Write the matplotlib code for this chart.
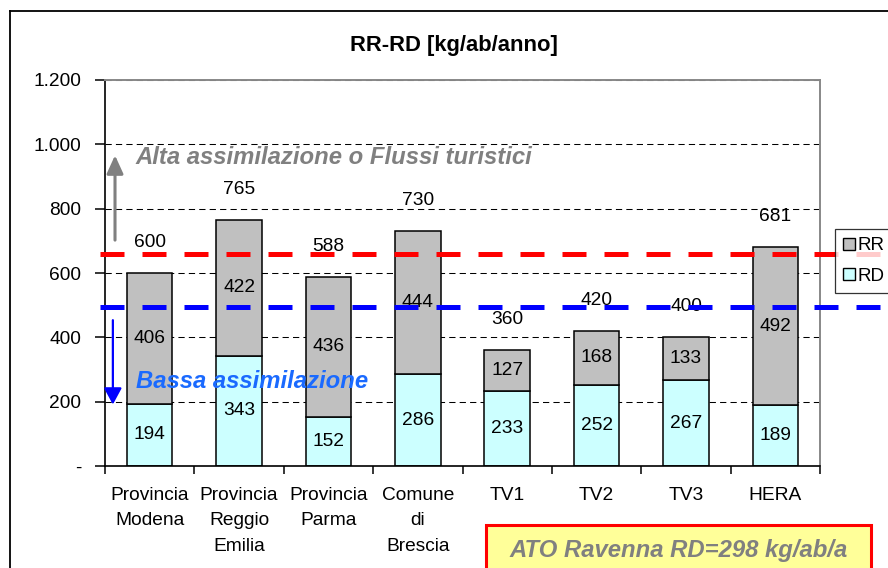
import numpy as np
import matplotlib
matplotlib.use("Agg")
import matplotlib.pyplot as plt
import matplotlib.patches as mpatches
from matplotlib.lines import Line2D

plt.rcParams['font.family'] = ['Liberation Sans', 'DejaVu Sans']

# Dati (kg/ab/anno)
categorie = ["Provincia\nModena", "Provincia\nReggio\nEmilia", "Provincia\nParma",
             "Comune\ndi\nBrescia", "TV1", "TV2", "TV3", "HERA"]
rd = [194, 343, 152, 286, 233, 252, 267, 189]
rr = [406, 422, 436, 444, 127, 168, 133, 492]
totale = [600, 765, 588, 730, 360, 420, 400, 681]

soglia_alta = 660    # linea rossa
soglia_bassa = 495   # linea blu
ato_ravenna_rd = 298

# Colori
col_rr = "#c0c0c0"
col_rd = "#ccffff"

fig = plt.figure(figsize=(8.88, 5.68), dpi=100)
ax = fig.add_axes([105/888, 1 - 466/568, 715/888, 386/568])

x = np.arange(len(categorie))
w = 0.51
ax.bar(x, rd, w, color=col_rd, edgecolor="black", linewidth=1.1, zorder=2)
ax.bar(x, rr, w, bottom=rd, color=col_rr, edgecolor="black", linewidth=1.1, zorder=2)

# etichette dentro le barre
for i in range(len(x)):
    ax.text(x[i], rd[i] / 2, str(rd[i]), ha="center", va="center", fontsize=13.8, zorder=3)
    ax.text(x[i], rd[i] + rr[i] / 2, str(rr[i]), ha="center", va="center", fontsize=13.8, zorder=3)
    ax.annotate(str(totale[i]), xy=(x[i], totale[i]), xytext=(0, 22),
                textcoords="offset points", ha="center", va="center",
                fontsize=13.8, zorder=3)

# assi
ax.set_xlim(-0.5, len(x) - 0.5)
ax.set_ylim(0, 1200)
yt = np.arange(0, 1201, 200)
ax.set_yticks(yt)
ax.set_yticklabels(["-" if v == 0 else f"{v:,}".replace(",", ".") for v in yt], fontsize=13.8)
ax.set_xticks(x)
ax.set_xticklabels(categorie, fontsize=13.8, linespacing=1.65, va="top")
ax.set_xticks(np.arange(-0.5, len(x)), minor=True)
ax.tick_params(axis="x", which="major", length=0, pad=15)
ax.tick_params(axis="x", which="minor", length=6, width=1.1, color="black")
ax.tick_params(axis="y", length=7, width=1.1, pad=10)

ax.yaxis.grid(True, linestyle=(0, (6, 4)), color="black", linewidth=0.75, zorder=0)
ax.set_axisbelow(True)
for s in ["left", "bottom"]:
    ax.spines[s].set_color("black")
    ax.spines[s].set_linewidth(1.2)
for s in ["top", "right"]:
    ax.spines[s].set_color("#888888")
    ax.spines[s].set_linewidth(1.4)

# linee tratteggiate di riferimento (oltre l'area del grafico)
ax.axhline(soglia_alta, xmin=-0.007, xmax=1.1, color="red", linewidth=3.6,
           linestyle=(0, (4.8, 3.6)), clip_on=False, zorder=6)
ax.axhline(soglia_bassa, xmin=-0.007, xmax=1.1, color="#0000ff", linewidth=3.6,
           linestyle=(0, (4.8, 3.6)), clip_on=False, zorder=6)

# frecce e scritte
ax.annotate("", xy=(0.014, 0.812), xytext=(0.014, 0.578), xycoords="axes fraction",
            arrowprops=dict(arrowstyle="-|>,head_length=0.55,head_width=0.25",
                            color="#808080", lw=2.2, mutation_scale=20), zorder=4)
ax.annotate("", xy=(0.011, 0.152), xytext=(0.011, 0.385), xycoords="axes fraction",
            arrowprops=dict(arrowstyle="-|>,head_length=0.5,head_width=0.27",
                            color="#0000ff", lw=1.6, mutation_scale=20), zorder=4)
ax.text(0.043, 0.798, "Alta assimilazione o Flussi turistici", transform=ax.transAxes,
        color="#808080", fontsize=17.2, fontweight="bold", style="italic",
        ha="left", va="center", zorder=4)
ax.text(0.043, 0.218, "Bassa assimilazione", transform=ax.transAxes,
        color="#1a6aff", fontsize=17.2, fontweight="bold", style="italic",
        ha="left", va="center", zorder=4)

# titolo
fig.text(454/888, 1 - 45/568, "RR-RD [kg/ab/anno]", ha="center", va="center",
         fontsize=15.8, fontweight="bold")

# legenda
handles = [mpatches.Patch(facecolor=col_rr, edgecolor="black", label="RR"),
           mpatches.Patch(facecolor=col_rd, edgecolor="black", label="RD")]
leg = fig.legend(handles=handles, loc="upper left", bbox_to_anchor=(835/888, 1 - 229/568),
                 fontsize=13.5, frameon=True, fancybox=False, handlelength=0.62,
                 handleheight=0.62, handletextpad=0.15, borderpad=0.45, labelspacing=0.7,
                 borderaxespad=0)
leg.get_frame().set_edgecolor("black")
leg.get_frame().set_linewidth(0.9)

# cornice esterna del grafico
fig.add_artist(Line2D([10/888, 10/888], [0, 1 - 11/568], color="black", lw=1.3))
fig.add_artist(Line2D([10/888, 1], [1 - 11/568, 1 - 11/568], color="black", lw=1.3))

# riquadro ATO Ravenna
box = mpatches.Rectangle((486/888, -0.05), (871 - 486)/888, 0.05 + 1 - 525/568,
                         transform=fig.transFigure, facecolor="#ffff99",
                         edgecolor="red", linewidth=2.2, clip_on=False)
fig.add_artist(box)
fig.text(679/888, 1 - 551/568, f"ATO Ravenna RD={ato_ravenna_rd} kg/ab/a",
         ha="center", va="center", color="#808080", fontsize=17.2,
         fontweight="bold", style="italic")

fig.savefig("out.png", dpi=100)
